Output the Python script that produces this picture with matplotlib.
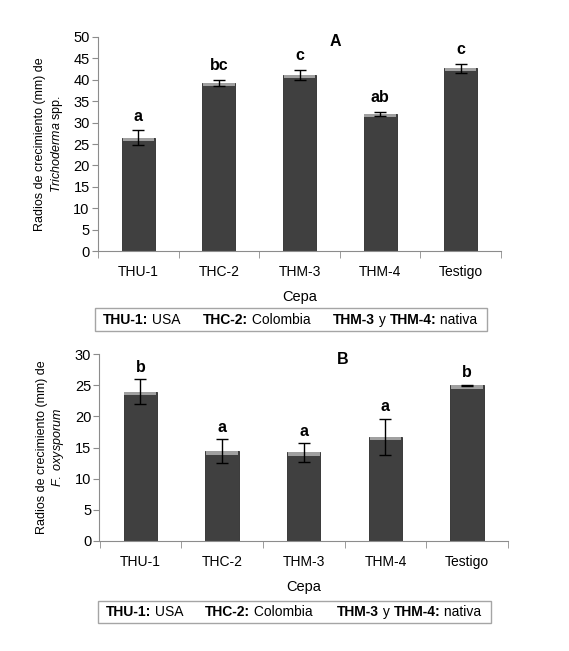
import numpy as np
import matplotlib
matplotlib.use('Agg')
import matplotlib.pyplot as plt

plt.rcParams['font.family'] = ['Liberation Sans', 'DejaVu Sans']
plt.rcParams['mathtext.fontset'] = 'custom'
plt.rcParams['mathtext.rm'] = 'Liberation Sans'
plt.rcParams['mathtext.it'] = 'Liberation Sans:italic'
plt.rcParams['mathtext.bf'] = 'Liberation Sans:bold'

# datos
cepas = ['THU-1', 'THC-2', 'THM-3', 'THM-4', 'Testigo']
radio_trich = [26.5, 39.3, 41.2, 32.0, 42.7]
err_trich = [1.7, 0.7, 1.2, 0.5, 1.1]
letras_trich = ['a', 'bc', 'c', 'ab', 'c']
radio_fus = [24.0, 14.4, 14.2, 16.7, 25.0]
err_fus = [2.0, 1.9, 1.5, 2.9, 0.05]
letras_fus = ['b', 'a', 'a', 'a', 'b']

W, H = 569, 651
fig = plt.figure(figsize=(W / 100, H / 100), dpi=100)
gris = '#8c8c8c'


def panel(rect, vals, errs, letras, ymax, paso, titulo, tpos, ylab, strip, off):
    ax = fig.add_axes(rect)
    x = np.arange(len(cepas))
    vals = np.array(vals)
    ax.bar(x, vals, width=0.41, color='#404040', edgecolor='#2b2b2b', linewidth=0.6, zorder=2)
    # brillo superior de la barra
    ax.bar(x, strip, bottom=vals - strip, width=0.39, color='#a0a0a0', linewidth=0, zorder=3)
    ax.errorbar(x, vals, yerr=errs, fmt='none', ecolor='black', elinewidth=1.0,
                capsize=4, capthick=1.0, zorder=4)
    for xi, v, e, l in zip(x, vals, errs, letras):
        ax.annotate(l, (xi, v + e), xytext=(0, off), textcoords='offset points',
                    ha='center', va='baseline', fontsize=11.5, fontweight='bold')
    ax.set_xlim(-0.5, len(cepas) - 0.5)
    ax.set_ylim(0, ymax)
    ax.set_yticks(np.arange(0, ymax + 1, paso))
    ax.set_xticks(x)
    ax.set_xticklabels(cepas, fontsize=10)
    ax.set_xticks(np.arange(-0.5, len(cepas)), minor=True)
    ax.tick_params(axis='x', which='major', length=0, pad=10)
    ax.tick_params(axis='x', which='minor', length=5, color=gris, direction='out')
    ax.tick_params(axis='y', length=4, color=gris, labelsize=10.5, pad=2)
    for s in ['top', 'right']:
        ax.spines[s].set_visible(False)
    for s in ['left', 'bottom']:
        ax.spines[s].set_color(gris)
    ax.set_xlabel('Cepa', fontsize=10.5, labelpad=8)
    ax.set_ylabel(ylab, fontsize=9, linespacing=1.25, labelpad=6)
    ax.text(tpos[0], tpos[1], titulo, transform=ax.transAxes, ha='center', va='center',
            fontsize=11.5, fontweight='bold')
    return ax


panel([98 / W, 1 - 251 / H, 403 / W, 214 / H], radio_trich, err_trich, letras_trich,
      50, 5, 'A', (0.588, 0.977),
      'Radios de crecimiento (mm) de\n$\\it{Trichoderma}$ spp.', 0.75, 7)
panel([99.5 / W, 1 - 540.7 / H, 408.5 / W, 186.4 / H], radio_fus, err_fus, letras_fus,
      30, 5, 'B', (0.596, 0.973),
      'Radios de crecimiento (mm) de\n$\\it{F.}$ $\\it{oxysporum}$', 0.55, 5.5)

# cajas de leyenda
renderer = fig.canvas.get_renderer()


def leyenda(box, ycen, starts):
    x0, x1, y0, y1 = box
    fig.patches.append(plt.Rectangle((x0 / W, 1 - y1 / H), (x1 - x0) / W, (y1 - y0) / H,
                                     transform=fig.transFigure, fill=False,
                                     edgecolor='#a5a5a5', linewidth=1.0))
    grupos = [[('THU-1:', 'bold'), (' USA', 'normal')],
              [('THC-2:', 'bold'), (' Colombia', 'normal')],
              [('THM-3', 'bold'), (' y ', 'normal'), ('THM-4:', 'bold'), (' nativa', 'normal')]]
    for g, xs in zip(grupos, starts):
        xp = xs
        for txt, w in g:
            t = fig.text(xp / W, 1 - ycen / H, txt, fontsize=10, fontweight=w,
                         ha='left', va='center')
            bb = t.get_window_extent(renderer)
            xp += bb.width


leyenda((95, 487, 308, 331), 320, [103, 203, 333])
leyenda((97.7, 490.7, 600.7, 622.7), 611.7, [106, 205, 337])

fig.savefig('out.png', dpi=100)
